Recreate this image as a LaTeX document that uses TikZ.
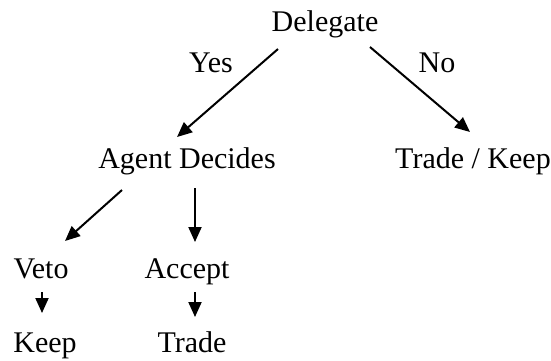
\documentclass[tikz,border=0pt]{standalone}
\usepackage{fontspec}
\setmainfont{Liberation Serif}
\usetikzlibrary{arrows.meta}
\begin{document}
\begin{tikzpicture}[x=1pt,y=-1pt,
  lbl/.style={anchor=base,inner sep=0pt,font=\fontsize{30}{34}\selectfont},
  arr/.style={line width=2pt,-{Triangle[length=15pt,width=13pt]}}]
\useasboundingbox (0,0) rectangle (551,360);
\node[lbl] (del) at (325,31) {Delegate};
\node[lbl] (yes) at (211,72) {Yes};
\node[lbl] (no) at (437,72) {No};
\node[lbl] (ag) at (187,168) {Agent Decides};
\node[lbl] (tk) at (473,168) {Trade / Keep};
\node[lbl] (veto) at (41,278) {Veto};
\node[lbl] (acc) at (187,278) {Accept};
\node[lbl] (keep) at (45,352) {Keep};
\node[lbl] (trade) at (192,352) {Trade};
\draw[arr] ([shift={(-47,18)}]del.base) -- ([shift={(-10,-31)}]ag.base);
\draw[arr] ([shift={(45,16)}]del.base) -- ([shift={(-3,-36)}]tk.base);
\draw[arr] ([shift={(-65,22)}]ag.base) -- ([shift={(24,-37)}]veto.base);
\draw[arr] ([shift={(8,20)}]ag.base) -- ([shift={(8,-36)}]acc.base);
\draw[arr] ([shift={(1,14)}]veto.base) -- ([shift={(-3,-39)}]keep.base);
\draw[arr] ([shift={(8,14)}]acc.base) -- ([shift={(3,-35)}]trade.base);
\end{tikzpicture}
\end{document}
